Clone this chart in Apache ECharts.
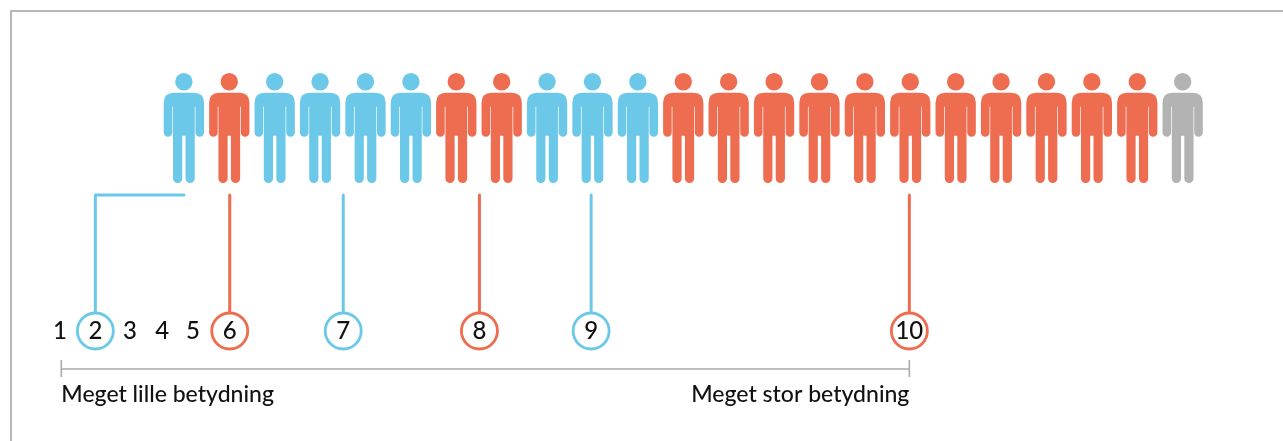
<!DOCTYPE html>
<html>
<head>
<meta charset="utf-8">
<style>
  html, body { margin: 0; background: #fff; }
  #chart { width: 1283px; height: 441px; }
</style>
<script src="https://cdn.jsdelivr.net/npm/echarts@6/dist/echarts.min.js"></script>
</head>
<body>
<div id="chart"></div>
<script>
// x axis counts people along the row (1 = first figure), y axis runs down the page
const personGroups = ['b', 'r', 'b', 'b', 'b', 'b', 'r', 'r', 'b', 'b', 'b', 'r', 'r', 'r', 'r', 'r', 'r', 'r', 'r', 'r', 'r', 'r', 'g'];
const scoreLabels = ['1', '2', '3', '4', '5', '6', '7', '8', '9', '10'];
const scorePlaces = [-1.73, -0.95, -0.19, 0.52, 1.2, 2.01, 4.51, 7.51, 9.97, 16.98];
const scoreGroups = [null, 'b', null, null, null, 'r', 'b', 'r', 'b', 'r'];
const scaleEnds = [-1.7, 16.98];
const scaleTexts = ['Meget lille betydning', 'Meget stor betydning'];

const colors = { b: '#6bc8e8', r: '#ee6c4f', g: '#b3b3b3' };
const ink = '#111';
const font = 'Lato';

const personRow = 128;
const scoreRow = 331;
const elbowRow = 195;
const ringTop = 311;
const scaleRow = 369;
const scaleTextRow = 395;

const personPath = 'path://M11.45 8.7a8.7 8.7 0 1 0 17.4 0a8.7 8.7 0 1 0 -17.4 0Z' +
  'M10 19.7H30.3Q40.3 19.7 40.3 29.7V59.4a4.3 4.3 0 0 1 -8.6 0V33.7H31V105.2a4.6 4.6 0 0 1 -9.2 0V62.7H18.5V105.2a4.6 4.6 0 0 1 -9.2 0V33.7H8.6V59.4a4.3 4.3 0 0 1 -8.6 0V29.7Q0 19.7 10 19.7Z';

const leader = (points, color) => ({
  type: 'line',
  data: points,
  showSymbol: false,
  symbol: 'none',
  z: 2,
  lineStyle: { color, width: 3, cap: 'round', join: 'round' }
});

const leaders = [];
scoreGroups.forEach((group, i) => {
  if (!group) {
    return;
  }
  const x = scorePlaces[i];
  // score 2 bends over to the first figure, the others run straight up
  const points = scoreLabels[i] === '2'
    ? [[x, ringTop], [x, elbowRow], [1, elbowRow]]
    : [[x, ringTop], [x, elbowRow]];
  leaders.push(leader(points, colors[group]));
});

const scaleLine = points => ({
  type: 'line',
  data: points,
  showSymbol: false,
  symbol: 'none',
  z: 1,
  lineStyle: { color: '#aaa', width: 1.6 }
});

const option = {
  animation: false,
  backgroundColor: '#fff',
  grid: { left: 11, top: 11, right: 0, bottom: 0 },
  xAxis: {
    type: 'value',
    position: 'top',
    min: -2.808,
    max: 25.21,
    axisLine: { show: true, onZero: false, lineStyle: { color: '#b8b8b8', width: 2 } },
    axisTick: { show: false },
    axisLabel: { show: false },
    splitLine: { show: false }
  },
  yAxis: {
    type: 'value',
    position: 'left',
    inverse: true,
    min: 11,
    max: 441,
    axisLine: { show: true, onZero: false, lineStyle: { color: '#b8b8b8', width: 2 } },
    axisTick: { show: false },
    axisLabel: { show: false },
    splitLine: { show: false }
  },
  series: [
    {
      type: 'scatter',
      symbol: personPath,
      symbolSize: [40.3, 110],
      z: 3,
      data: personGroups.map((group, i) => ({
        value: [i + 1, personRow],
        itemStyle: { color: colors[group], opacity: 1 }
      }))
    },
    ...leaders,
    scaleLine([[scaleEnds[0], scaleRow], [scaleEnds[1], scaleRow]]),
    scaleLine([[scaleEnds[0], 360], [scaleEnds[0], 377]]),
    scaleLine([[scaleEnds[1], 360], [scaleEnds[1], 377]]),
    {
      type: 'scatter',
      symbol: 'circle',
      symbolSize: 36,
      z: 4,
      data: scoreLabels.map((label, i) => ({
        value: [scorePlaces[i], scoreRow],
        name: label,
        itemStyle: scoreGroups[i]
          ? { color: '#fff', borderColor: colors[scoreGroups[i]], borderWidth: 2.8, opacity: 1 }
          : { color: 'transparent', opacity: 1 }
      })),
      label: {
        show: true,
        position: 'inside',
        formatter: '{b}',
        color: ink,
        fontFamily: font,
        fontSize: 24,
        fontWeight: 500
      }
    },
    {
      type: 'scatter',
      symbolSize: 0,
      z: 4,
      itemStyle: { opacity: 1 },
      data: [
        {
          value: [scaleEnds[0], scaleTextRow],
          name: scaleTexts[0],
          label: { position: 'right', distance: 0 }
        },
        {
          value: [scaleEnds[1], scaleTextRow],
          name: scaleTexts[1],
          label: { position: 'left', distance: 0 }
        }
      ],
      label: {
        show: true,
        formatter: '{b}',
        color: ink,
        fontFamily: font,
        fontSize: 23,
        fontWeight: 500
      }
    }
  ]
};

const myChart = echarts.init(document.getElementById('chart'));
myChart.setOption(option);
</script>
</body>
</html>
